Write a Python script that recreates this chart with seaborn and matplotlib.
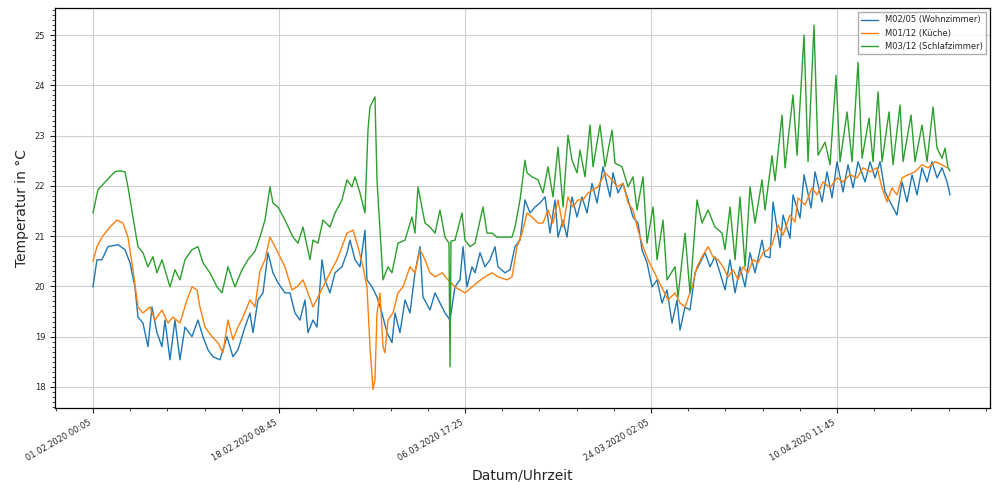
import numpy as np
import pandas as pd
import matplotlib
matplotlib.use("Agg")
import matplotlib.pyplot as plt
from matplotlib.ticker import MultipleLocator
import seaborn as sns

# Sample index (5-minute samples since 01.02.2020 00:05) and temperatures
wohn_idx = [0, 108, 242, 403, 672, 860, 995, 1129, 1210, 1344, 1478, 1586, 1720, 1855, 1935, 2070, 2204,
            2339, 2473, 2661, 2822, 2957, 3091, 3226, 3414, 3602, 3763, 3898, 4086, 4220, 4301, 4435, 4570,
            4704, 4838, 4973, 5161, 5295, 5430, 5564, 5699, 5779, 5914, 6021, 6156, 6236, 6370, 6505, 6693,
            6828, 6908, 7043, 7177, 7311, 7365, 7500, 7634, 7768, 7903, 8037, 8118, 8252, 8387, 8521, 8655,
            8790, 8870, 9059, 9193, 9327, 9462, 9596, 9731, 9865, 9946, 10053, 10188, 10268, 10403, 10537,
            10671, 10806, 10886, 11075, 11209, 11343, 11478, 11612, 11747, 11881, 12015, 12150, 12284, 12419,
            12499, 12634, 12741, 12876, 13010, 13144, 13279, 13413, 13548, 13709, 13897, 13978, 14112, 14246,
            14381, 14515, 14650, 14757, 14892, 15026, 15161, 15295, 15429, 15564, 15698, 15779, 15913, 16047,
            16182, 16316, 16451, 16585, 16719, 16854, 16988, 17123, 17257, 17391, 17526, 17660, 17795, 17983,
            18063, 18198, 18278, 18466, 18547, 18735, 18816, 19004, 19112, 19300, 19408, 19596, 19730, 19864,
            19998, 20160, 20294, 20429, 20563, 20751, 20886, 21020, 21155, 21289, 21424, 21611, 21746, 21880,
            22015, 22149, 22283, 22418, 22552, 22686, 22821, 22955, 23036]
wohn_val = [19.99, 20.53, 20.53, 20.79, 20.83, 20.73, 20.47, 19.99, 19.39, 19.27, 18.80, 19.59, 19.08, 18.80,
            19.33, 18.54, 19.33, 18.54, 19.19, 19.00, 19.33, 19.00, 18.74, 18.60, 18.54, 19.00, 18.60, 18.74,
            19.19, 19.47, 19.08, 19.73, 19.87, 20.67, 20.27, 20.07, 19.87, 19.87, 19.47, 19.33, 19.73, 19.08,
            19.33, 19.19, 20.53, 20.13, 19.87, 20.27, 20.39, 20.67, 20.92, 20.53, 20.39, 21.12, 20.13, 19.99,
            19.79, 19.47, 19.08, 18.88, 19.47, 19.08, 19.73, 19.47, 20.27, 20.79, 19.79, 19.53, 19.87, 19.67,
            19.47, 19.33, 19.99, 20.13, 20.79, 19.99, 20.39, 20.27, 20.67, 20.39, 20.53, 20.79, 20.39, 20.27,
            20.33, 20.79, 20.92, 21.72, 21.46, 21.58, 21.66, 21.78, 21.06, 21.72, 20.98, 21.32, 20.98, 21.78,
            21.38, 21.78, 21.46, 22.05, 21.66, 22.38, 21.78, 22.26, 21.86, 22.05, 21.72, 21.38, 21.26, 20.73,
            20.47, 19.99, 20.13, 19.67, 19.93, 19.27, 19.73, 19.13, 19.59, 19.53, 20.27, 20.47, 20.67, 20.39,
            20.59, 20.27, 19.93, 20.53, 19.87, 20.39, 19.99, 20.67, 20.27, 20.92, 20.60, 20.57, 21.68, 20.77,
            21.42, 20.96, 21.82, 21.36, 22.22, 21.56, 22.28, 21.68, 22.28, 21.76, 22.48, 21.88, 22.42, 21.96,
            22.48, 22.08, 22.48, 22.16, 22.48, 21.88, 21.68, 21.42, 22.08, 21.68, 22.22, 21.82, 22.36, 22.08,
            22.48, 22.16, 22.36, 22.08, 21.82]

kueche_idx = [0, 108, 242, 457, 645, 806, 941, 1075, 1210, 1344, 1532, 1667, 1855, 2016, 2150, 2339, 2527,
              2661, 2796, 2876, 3011, 3199, 3360, 3494, 3629, 3763, 3898, 4032, 4220, 4355, 4489, 4623, 4758,
              4892, 5027, 5161, 5349, 5484, 5645, 5779, 5914, 6048, 6182, 6370, 6559, 6693, 6828, 6989, 7123,
              7258, 7365, 7446, 7526, 7580, 7634, 7715, 7795, 7849, 7930, 8064, 8198, 8333, 8521, 8655, 8790,
              8924, 9059, 9193, 9381, 9542, 9731, 9999, 10188, 10349, 10537, 10725, 10886, 11128, 11263, 11397,
              11532, 11666, 11800, 11962, 12096, 12230, 12365, 12499, 12634, 12768, 12902, 13037, 13171, 13306,
              13440, 13574, 13763, 13951, 14085, 14246, 14381, 14515, 14650, 14784, 14919, 15053, 15187, 15322,
              15456, 15644, 15779, 15913, 16101, 16236, 16370, 16531, 16666, 16800, 16934, 17069, 17203, 17338,
              17472, 17606, 17741, 17875, 18010, 18144, 18252, 18413, 18547, 18735, 18870, 18950, 19139, 19327,
              19461, 19622, 19811, 19998, 20160, 20348, 20536, 20698, 20886, 21074, 21208, 21343, 21477, 21611,
              21746, 21907, 22095, 22283, 22445, 22633, 22821, 22955]
kueche_val = [20.50, 20.79, 20.98, 21.18, 21.32, 21.26, 20.98, 20.33, 19.59, 19.47, 19.59, 19.33, 19.53, 19.27,
              19.39, 19.27, 19.73, 19.99, 19.93, 19.59, 19.19, 19.00, 18.88, 18.68, 19.33, 18.94, 19.19, 19.39,
              19.73, 19.59, 20.30, 20.53, 20.98, 20.79, 20.59, 20.39, 19.93, 19.99, 20.13, 19.87, 19.59, 19.79,
              19.99, 20.27, 20.53, 20.79, 21.06, 21.12, 20.79, 20.39, 19.99, 18.80, 17.95, 18.14, 19.47, 19.87,
              18.80, 18.68, 19.33, 19.47, 19.87, 19.99, 20.39, 20.27, 20.73, 20.53, 20.27, 20.19, 20.27, 20.13,
              19.99, 19.87, 19.99, 20.09, 20.19, 20.27, 20.19, 20.13, 20.19, 20.79, 21.06, 21.46, 21.38, 21.26,
              21.26, 21.52, 21.26, 21.72, 21.18, 21.78, 21.58, 21.72, 21.72, 21.86, 21.92, 21.98, 22.26, 22.12,
              21.98, 22.05, 21.66, 21.52, 21.12, 20.79, 20.53, 20.33, 20.13, 19.93, 19.73, 19.87, 19.67, 19.59,
              19.99, 20.39, 20.59, 20.79, 20.59, 20.53, 20.39, 20.19, 20.33, 20.13, 20.39, 20.27, 20.53, 20.47,
              20.67, 20.73, 20.83, 21.22, 21.02, 21.42, 21.28, 21.76, 21.62, 21.96, 21.82, 22.08, 21.96, 22.16,
              22.08, 22.22, 22.16, 22.36, 22.28, 22.36, 21.96, 21.68, 21.96, 21.82, 22.16, 22.22, 22.28, 22.42,
              22.36, 22.48, 22.42, 22.36]

schlaf_idx = [0, 134, 296, 457, 591, 726, 860, 941, 1075, 1210, 1344, 1478, 1613, 1720, 1855, 2070, 2204,
              2339, 2473, 2661, 2822, 2957, 3145, 3333, 3468, 3629, 3817, 4005, 4166, 4355, 4489, 4623, 4758,
              4838, 4973, 5161, 5376, 5510, 5645, 5833, 5914, 6048, 6182, 6370, 6505, 6693, 6828, 6962, 7043,
              7177, 7311, 7392, 7446, 7580, 7634, 7715, 7795, 7930, 8037, 8198, 8387, 8575, 8655, 8736, 8924,
              9059, 9193, 9327, 9462, 9569, 9596, 9623, 9731, 9919, 9999, 10134, 10268, 10483, 10591, 10725,
              10860, 11075, 11263, 11343, 11478, 11612, 11666, 11800, 11962, 12096, 12230, 12365, 12499, 12634,
              12768, 12876, 13010, 13091, 13225, 13359, 13440, 13628, 13763, 13951, 14032, 14220, 14381, 14515,
              14623, 14784, 14892, 15053, 15161, 15322, 15429, 15644, 15725, 15913, 16047, 16236, 16370, 16531,
              16719, 16908, 16988, 17123, 17257, 17391, 17526, 17660, 17795, 17983, 18063, 18252, 18332, 18520,
              18601, 18816, 18924, 19112, 19219, 19380, 19488, 19676, 19811, 19972, 20079, 20268, 20402, 20563,
              20671, 20859, 20966, 21101, 21208, 21396, 21504, 21692, 21773, 21988, 22095, 22283, 22418, 22579,
              22686, 22821, 22902, 22982, 23036]
schlaf_val = [21.46, 21.92, 22.05, 22.18, 22.28, 22.30, 22.28, 21.98, 21.38, 20.79, 20.67, 20.39, 20.59, 20.27,
              20.53, 19.99, 20.33, 20.13, 20.53, 20.73, 20.79, 20.47, 20.27, 19.99, 19.87, 20.39, 19.99, 20.33,
              20.53, 20.70, 20.98, 21.32, 21.98, 21.66, 21.58, 21.32, 20.98, 20.86, 21.18, 20.53, 20.92, 20.86,
              21.32, 21.18, 21.46, 21.72, 22.12, 21.98, 22.18, 21.86, 21.46, 23.11, 23.57, 23.77, 22.12, 21.12,
              20.13, 20.39, 20.27, 20.86, 20.92, 21.38, 21.06, 21.98, 21.26, 21.18, 21.06, 21.52, 20.98, 20.86,
              18.40, 20.90, 20.92, 21.46, 20.92, 20.79, 20.86, 21.58, 21.06, 21.06, 20.98, 20.98, 20.98, 21.18,
              21.72, 22.51, 22.26, 22.18, 22.12, 21.86, 22.38, 21.78, 22.77, 21.58, 23.01, 22.51, 22.26, 22.71,
              22.18, 23.21, 22.38, 23.21, 22.38, 23.11, 22.45, 22.38, 21.98, 22.18, 21.52, 22.18, 20.86, 21.58,
              20.53, 21.32, 20.13, 20.39, 19.79, 21.06, 19.87, 21.72, 21.26, 21.52, 21.18, 21.06, 20.73, 21.58,
              20.53, 21.78, 20.39, 21.98, 21.26, 22.12, 21.52, 22.60, 22.10, 23.41, 22.36, 23.81, 22.61, 25.00,
              22.48, 25.20, 22.61, 22.87, 22.42, 24.20, 22.48, 23.47, 22.48, 24.46, 22.55, 23.35, 22.48, 23.87,
              22.48, 23.47, 22.42, 23.61, 22.48, 23.41, 22.48, 23.21, 22.48, 23.57, 22.75, 22.55, 22.75, 22.36,
              22.30]

series_labels = ["M02/05 (Wohnzimmer)", "M01/12 (Küche)", "M03/12 (Schlafzimmer)"]
series_colors = ["#1f77b4", "#ff7f0e", "#2ca02c"]
tick_positions = [0, 5000, 10000, 15000, 20000]
tick_labels = ["01.02.2020 00:05", "18.02.2020 08:45", "06.03.2020 17:25",
               "24.03.2020 02:05", "10.04.2020 11:45"]

df = pd.concat([
    pd.DataFrame({"idx": wohn_idx, "temp": wohn_val, "sensor": series_labels[0]}),
    pd.DataFrame({"idx": kueche_idx, "temp": kueche_val, "sensor": series_labels[1]}),
    pd.DataFrame({"idx": schlaf_idx, "temp": schlaf_val, "sensor": series_labels[2]}),
], ignore_index=True)

sns.set_theme(style="ticks")
plt.rcParams["font.family"] = ["DejaVu Sans"]

fig = plt.figure(figsize=(10, 4.82), dpi=100)
ax = fig.add_axes([0.055, 0.1535, 0.935, 0.83])

sns.lineplot(data=df, x="idx", y="temp", hue="sensor", hue_order=series_labels,
             palette=series_colors, estimator=None, sort=False, linewidth=1.0, ax=ax)

ax.set_xlim(-1020, 24110)
ax.set_ylim(17.58, 25.54)
ax.set_xticks(tick_positions)
ax.set_xticklabels(tick_labels, rotation=30, ha="right", fontsize=6)
ax.xaxis.set_minor_locator(MultipleLocator(1000))
ax.yaxis.set_major_locator(MultipleLocator(1))
ax.yaxis.set_minor_locator(MultipleLocator(0.1))
ax.tick_params(axis="y", labelsize=6)
ax.tick_params(which="major", length=3.5, width=0.8)
ax.tick_params(which="minor", length=2, width=0.6)
ax.grid(True, which="major", color="#d0d0d0", linewidth=0.8)
for s in ax.spines.values():
    s.set_visible(True)
    s.set_color("black")
    s.set_linewidth(0.9)
ax.set_xlabel("Datum/Uhrzeit", fontsize=10)
ax.set_ylabel("Temperatur in °C", fontsize=10)
leg = ax.legend(loc="upper right", fontsize=6, frameon=True, fancybox=False, title=None)
leg.get_frame().set_edgecolor("#999999")
for line in leg.get_lines():
    line.set_linewidth(1.0)

fig.savefig("out.png", dpi=100)
